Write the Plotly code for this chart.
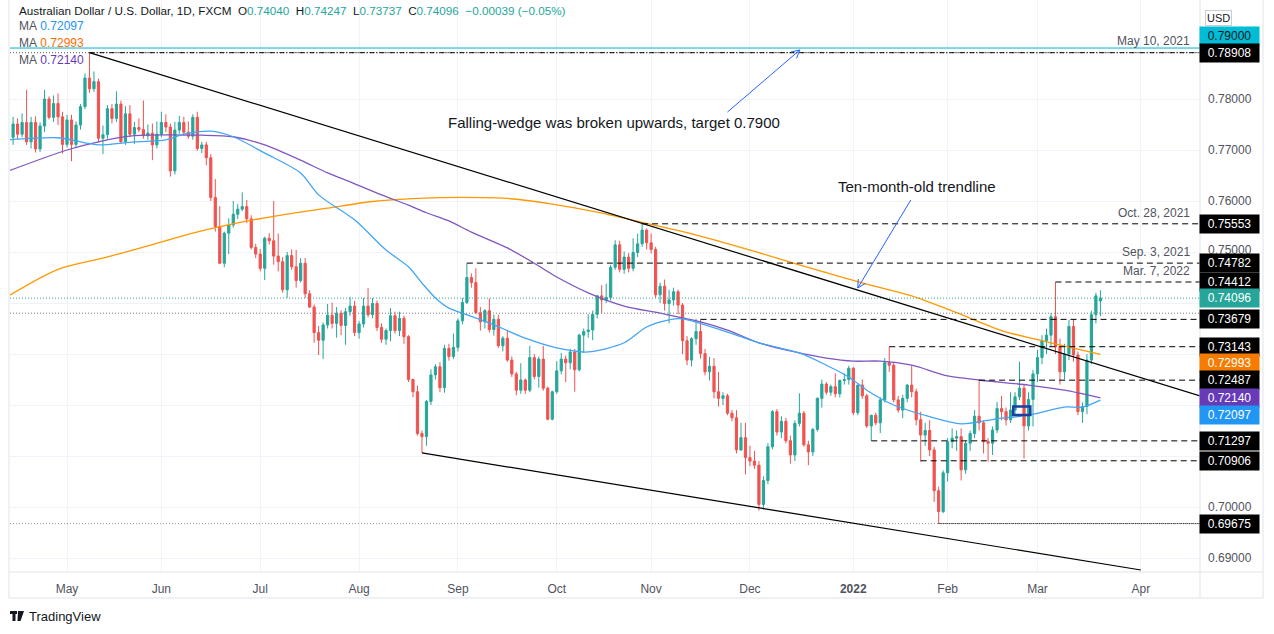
import math
import pandas as pd
import plotly.graph_objects as go

# ---------------- data ----------------
dates = pd.bdate_range("2021-04-15", "2022-03-21")

open_ = [0.7725,0.7751,0.7731,0.7754,0.7716,0.7754,0.7702,0.7747,0.7800,0.7764,
         0.7791,0.7765,0.7711,0.7759,0.7711,0.7749,0.7785,0.7841,0.7820,0.7834,
         0.7723,0.7730,0.7781,0.7762,0.7790,0.7716,0.7771,0.7731,0.7744,0.7740,
         0.7728,0.7733,0.7710,0.7731,0.7754,0.7745,0.7659,0.7739,0.7754,0.7735,
         0.7727,0.7764,0.7703,0.7710,0.7685,0.7607,0.7550,0.7478,0.7537,0.7553,
         0.7574,0.7584,0.7589,0.7565,0.7509,0.7496,0.7468,0.7527,0.7522,0.7492,
         0.7481,0.7426,0.7493,0.7471,0.7444,0.7478,0.7418,0.7392,0.7342,0.7327,
         0.7357,0.7376,0.7360,0.7380,0.7356,0.7383,0.7394,0.7342,0.7359,0.7394,
         0.7377,0.7399,0.7352,0.7329,0.7346,0.7375,0.7346,0.7370,0.7334,0.7250,
         0.7226,0.7144,0.7138,0.7207,0.7259,0.7275,0.7234,0.7311,0.7295,0.7313,
         0.7365,0.7401,0.7450,0.7440,0.7381,0.7363,0.7385,0.7348,0.7368,0.7316,
         0.7331,0.7288,0.7261,0.7229,0.7249,0.7229,0.7293,0.7256,0.7290,0.7233,
         0.7172,0.7226,0.7267,0.7290,0.7283,0.7304,0.7269,0.7337,0.7344,0.7347,
         0.7378,0.7414,0.7406,0.7411,0.7470,0.7514,0.7466,0.7490,0.7468,0.7499,
         0.7516,0.7543,0.7518,0.7505,0.7416,0.7433,0.7399,0.7406,0.7422,0.7396,
         0.7326,0.7288,0.7330,0.7344,0.7301,0.7265,0.7276,0.7226,0.7213,0.7218,
         0.7184,0.7175,0.7112,0.7136,0.7097,0.7090,0.7082,0.7005,0.7052,0.7118,
         0.7187,0.7147,0.7168,0.7130,0.7102,0.7164,0.7184,0.7122,0.7108,0.7152,
         0.7213,0.7241,0.7225,0.7236,0.7222,0.7248,0.7250,0.7272,0.7185,0.7239,
         0.7218,0.7159,0.7180,0.7165,0.7210,0.7283,0.7278,0.7210,0.7190,0.7213,
         0.7239,0.7226,0.7171,0.7141,0.7150,0.7112,0.7032,0.6991,0.7067,0.7128,
         0.7135,0.7138,0.7073,0.7125,0.7144,0.7178,0.7165,0.7128,0.7125,0.7151,
         0.7193,0.7187,0.7171,0.7190,0.7216,0.7233,0.7159,0.7211,0.7261,0.7293,
         0.7326,0.7337,0.7373,0.7314,0.7265,0.7300,0.7354,0.7298,0.7187,0.7197,
         0.7288,0.7377,0.7404]
high = [0.7765,0.7762,0.7772,0.7818,0.7765,0.7766,0.7754,0.7818,0.7805,0.7807,
        0.7811,0.7775,0.7769,0.7769,0.7756,0.7790,0.7850,0.7891,0.7854,0.7840,
        0.7748,0.7788,0.7790,0.7815,0.7797,0.7786,0.7788,0.7755,0.7762,0.7797,
        0.7750,0.7752,0.7756,0.7775,0.7770,0.7752,0.7755,0.7767,0.7765,0.7756,
        0.7770,0.7775,0.7716,0.7716,0.7692,0.7643,0.7590,0.7540,0.7566,0.7600,
        0.7594,0.7617,0.7602,0.7572,0.7516,0.7506,0.7530,0.7537,0.7600,0.7536,
        0.7490,0.7500,0.7505,0.7504,0.7488,0.7488,0.7425,0.7397,0.7355,0.7362,
        0.7398,0.7401,0.7392,0.7386,0.7390,0.7412,0.7404,0.7365,0.7410,0.7429,
        0.7410,0.7405,0.7360,0.7350,0.7390,0.7383,0.7383,0.7375,0.7337,0.7252,
        0.7238,0.7150,0.7210,0.7270,0.7280,0.7284,0.7318,0.7320,0.7340,0.7370,
        0.7410,0.7478,0.7458,0.7468,0.7392,0.7388,0.7409,0.7377,0.7377,0.7335,
        0.7347,0.7295,0.7265,0.7282,0.7252,0.7316,0.7300,0.7295,0.7316,0.7236,
        0.7228,0.7286,0.7302,0.7297,0.7310,0.7310,0.7340,0.7350,0.7378,0.7385,
        0.7416,0.7435,0.7438,0.7475,0.7523,0.7522,0.7501,0.7498,0.7527,0.7536,
        0.7556,0.7546,0.7536,0.7510,0.7440,0.7446,0.7426,0.7430,0.7426,0.7400,
        0.7335,0.7333,0.7369,0.7368,0.7310,0.7294,0.7292,0.7265,0.7225,0.7222,
        0.7190,0.7190,0.7165,0.7165,0.7120,0.7110,0.7090,0.7060,0.7125,0.7190,
        0.7192,0.7178,0.7175,0.7140,0.7170,0.7223,0.7188,0.7130,0.7155,0.7215,
        0.7250,0.7245,0.7240,0.7262,0.7250,0.7262,0.7277,0.7275,0.7240,0.7250,
        0.7222,0.7180,0.7185,0.7215,0.7292,0.7314,0.7285,0.7218,0.7220,0.7241,
        0.7278,0.7232,0.7187,0.7165,0.7170,0.7118,0.7040,0.7072,0.7135,0.7154,
        0.7150,0.7154,0.7130,0.7150,0.7190,0.7249,0.7170,0.7135,0.7158,0.7206,
        0.7218,0.7195,0.7225,0.7225,0.7285,0.7240,0.7225,0.7269,0.7308,0.7337,
        0.7350,0.7380,0.7441,0.7330,0.7320,0.7367,0.7368,0.7305,0.7205,0.7300,
        0.7385,0.7420,0.7425]
low = [0.7710,0.7722,0.7725,0.7710,0.7703,0.7695,0.7696,0.7735,0.7760,0.7755,
       0.7749,0.7693,0.7705,0.7678,0.7706,0.7740,0.7780,0.7812,0.7814,0.7715,
       0.7692,0.7722,0.7752,0.7755,0.7713,0.7710,0.7725,0.7712,0.7735,0.7722,
       0.7720,0.7680,0.7703,0.7725,0.7735,0.7648,0.7652,0.7732,0.7728,0.7722,
       0.7720,0.7698,0.7694,0.7670,0.7600,0.7540,0.7476,0.7470,0.7496,0.7548,
       0.7565,0.7580,0.7557,0.7505,0.7488,0.7462,0.7445,0.7515,0.7475,0.7462,
       0.7420,0.7410,0.7465,0.7430,0.7440,0.7410,0.7390,0.7322,0.7298,0.7290,
       0.7350,0.7350,0.7332,0.7337,0.7318,0.7375,0.7335,0.7330,0.7352,0.7372,
       0.7370,0.7345,0.7322,0.7318,0.7325,0.7340,0.7335,0.7320,0.7245,0.7215,
       0.7140,0.7106,0.7120,0.7200,0.7250,0.7225,0.7224,0.7287,0.7290,0.7305,
       0.7358,0.7398,0.7430,0.7378,0.7346,0.7350,0.7342,0.7336,0.7312,0.7305,
       0.7285,0.7255,0.7219,0.7222,0.7222,0.7225,0.7250,0.7234,0.7228,0.7170,
       0.7170,0.7222,0.7260,0.7245,0.7270,0.7226,0.7266,0.7302,0.7332,0.7327,
       0.7370,0.7380,0.7400,0.7405,0.7465,0.7460,0.7457,0.7460,0.7462,0.7490,
       0.7510,0.7505,0.7497,0.7410,0.7400,0.7385,0.7360,0.7395,0.7378,0.7300,
       0.7278,0.7276,0.7318,0.7291,0.7258,0.7248,0.7213,0.7197,0.7200,0.7180,
       0.7168,0.7105,0.7110,0.7064,0.7080,0.7075,0.6993,0.6995,0.7045,0.7113,
       0.7140,0.7135,0.7125,0.7085,0.7090,0.7158,0.7118,0.7082,0.7100,0.7148,
       0.7195,0.7220,0.7218,0.7215,0.7215,0.7240,0.7240,0.7180,0.7180,0.7212,
       0.7155,0.7130,0.7160,0.7145,0.7205,0.7265,0.7205,0.7185,0.7174,0.7205,
       0.7215,0.7160,0.7089,0.7120,0.7100,0.7010,0.6967,0.6988,0.7050,0.7115,
       0.7110,0.7052,0.7065,0.7110,0.7135,0.7150,0.7105,0.7089,0.7102,0.7145,
       0.7170,0.7160,0.7165,0.7180,0.7210,0.7095,0.7150,0.7158,0.7245,0.7280,
       0.7300,0.7315,0.7300,0.7240,0.7250,0.7288,0.7285,0.7180,0.7165,0.7182,
       0.7280,0.7360,0.7374]
close = [0.7751,0.7731,0.7754,0.7716,0.7754,0.7702,0.7747,0.7800,0.7764,0.7791,
         0.7765,0.7711,0.7759,0.7711,0.7749,0.7785,0.7841,0.7820,0.7834,0.7723,
         0.7730,0.7781,0.7762,0.7790,0.7716,0.7771,0.7731,0.7744,0.7740,0.7728,
         0.7733,0.7710,0.7731,0.7754,0.7745,0.7659,0.7739,0.7754,0.7735,0.7727,
         0.7764,0.7703,0.7710,0.7685,0.7607,0.7550,0.7478,0.7537,0.7553,0.7574,
         0.7584,0.7589,0.7565,0.7509,0.7496,0.7468,0.7527,0.7522,0.7492,0.7481,
         0.7426,0.7493,0.7471,0.7444,0.7478,0.7418,0.7392,0.7342,0.7327,0.7357,
         0.7376,0.7360,0.7380,0.7356,0.7383,0.7394,0.7342,0.7359,0.7394,0.7377,
         0.7399,0.7352,0.7329,0.7346,0.7375,0.7346,0.7370,0.7334,0.7250,0.7226,
         0.7144,0.7138,0.7207,0.7259,0.7275,0.7234,0.7311,0.7295,0.7313,0.7365,
         0.7401,0.7450,0.7440,0.7381,0.7363,0.7385,0.7348,0.7368,0.7316,0.7331,
         0.7288,0.7261,0.7229,0.7249,0.7229,0.7293,0.7256,0.7290,0.7233,0.7172,
         0.7226,0.7267,0.7290,0.7283,0.7304,0.7269,0.7337,0.7344,0.7347,0.7378,
         0.7414,0.7406,0.7411,0.7470,0.7514,0.7466,0.7490,0.7468,0.7499,0.7516,
         0.7543,0.7518,0.7505,0.7416,0.7433,0.7399,0.7406,0.7422,0.7396,0.7326,
         0.7288,0.7330,0.7344,0.7301,0.7265,0.7276,0.7226,0.7213,0.7218,0.7184,
         0.7175,0.7112,0.7136,0.7097,0.7090,0.7082,0.7005,0.7052,0.7118,0.7187,
         0.7147,0.7168,0.7130,0.7102,0.7164,0.7184,0.7122,0.7108,0.7152,0.7213,
         0.7241,0.7225,0.7236,0.7222,0.7248,0.7250,0.7272,0.7185,0.7239,0.7218,
         0.7159,0.7180,0.7165,0.7210,0.7283,0.7278,0.7210,0.7190,0.7213,0.7239,
         0.7226,0.7171,0.7141,0.7150,0.7112,0.7032,0.6991,0.7067,0.7128,0.7135,
         0.7138,0.7073,0.7125,0.7144,0.7178,0.7165,0.7128,0.7125,0.7151,0.7193,
         0.7187,0.7171,0.7190,0.7216,0.7233,0.7159,0.7211,0.7261,0.7293,0.7326,
         0.7337,0.7373,0.7314,0.7265,0.7300,0.7354,0.7298,0.7187,0.7197,0.7288,
         0.7377,0.7414,0.74096]

# moving averages (bar index, value)
ma50_idx = [-1, 10, 16, 19, 27, 34, 38, 44, 49, 56, 64, 68, 76, 83, 88, 91, 94, 97, 100,
            106, 114, 121, 128, 136, 141, 146, 149, 159, 166, 175, 181, 186, 190, 196,
            204, 211, 219, 226, 234, 238, 242]
ma50_val = [0.7720, 0.7724, 0.7714, 0.7710, 0.7716, 0.7720, 0.7731, 0.7737, 0.7726, 0.7694,
            0.7655, 0.7612, 0.7563, 0.7504, 0.7471, 0.7439, 0.7410, 0.7390, 0.7380,
            0.7361, 0.7331, 0.7312, 0.7304, 0.7322, 0.7353, 0.7367, 0.7369, 0.7343,
            0.7322, 0.7302, 0.7278, 0.7255, 0.7229, 0.7200, 0.7177, 0.7163, 0.7173,
            0.7180, 0.7196, 0.7196, 0.72097]
ma100_idx = [-1, 12, 19, 27, 42, 49, 56, 64, 70, 74, 82, 88, 92, 97, 102, 110, 116, 121,
             128, 136, 144, 153, 159, 166, 174, 181, 187, 193, 200, 208, 215, 226, 234, 242]
ma100_val = [0.7659, 0.7700, 0.7716, 0.7728, 0.7729, 0.7726, 0.7710, 0.7680, 0.7655, 0.7641,
             0.7612, 0.7592, 0.7577, 0.7561, 0.7539, 0.7508, 0.7478, 0.7451, 0.7420,
             0.7394, 0.7380, 0.7363, 0.7347, 0.7322, 0.7304, 0.7292, 0.7286, 0.7286,
             0.7278, 0.7257, 0.7249, 0.7239, 0.7229, 0.72140]
ma200_idx = [-1, 10, 20, 30, 40, 50, 60, 70, 80, 90, 100, 110, 120, 130, 140, 150, 160,
             170, 180, 190, 200, 210, 220, 230, 242]
ma200_val = [0.7414, 0.7466, 0.7488, 0.7512, 0.7537, 0.7557, 0.7573, 0.7586, 0.7599, 0.7605,
             0.7607, 0.7605, 0.7594, 0.7578, 0.7558, 0.7538, 0.7514, 0.7488, 0.7462,
             0.7437, 0.7414, 0.7381, 0.7346, 0.7324, 0.72993]

# horizontal levels: (price, start bar)
level_prices = [0.75553, 0.74782, 0.74412, 0.73679, 0.73143, 0.72487, 0.71297, 0.70906]
level_start = [140, 101, 232, 153, 195, 215, 191, 202]
level_dates = {0.75553: "Oct. 28, 2021", 0.74782: "Sep. 3, 2021", 0.74412: "Mar. 7, 2022"}
target_price = 0.79000
may_high = 0.78908
last_price = 0.74096
prev_line = 0.7380
jan_low = 0.69675
jan_low_bar = 206

# wedge anchors (bar, price)
upper_wedge = [(17, 0.7891), (140, 0.7556)]
lower_wedge = [(91, 0.7106), (251, 0.68765)]

ytick_plain = [0.78, 0.77, 0.76, 0.75, 0.70, 0.69]

# ---------------- geometry ----------------
W, H = 1274, 634
ML, MR, MT, MB = 10, 74, 0, 62
PW, PH = W - ML - MR, H - MT - MB
BAR_PX = 4.493
PX_PER_PRICE = 5100.0
X0 = -0.69
XR = [X0, X0 + PW / BAR_PX]
YR = [0.687255, 0.687255 + PH / PX_PER_PRICE]

def px2paper(px, py):
    return (px - ML) / PW, (H - MB - py) / PH

n = len(close)
x = list(range(n))

# month ticks
ext = pd.bdate_range(dates[0], "2022-04-29")
tickvals, ticktext = [], []
for i in range(1, len(ext)):
    if ext[i].month != ext[i - 1].month and i <= XR[1]:
        tickvals.append(i)
        ticktext.append("<b>2022</b>" if ext[i].month == 1 else ext[i].strftime("%b"))

fig = go.Figure()

fig.add_trace(go.Candlestick(
    x=x, open=open_, high=high, low=low, close=close,
    increasing=dict(line=dict(color="#26a69a", width=1), fillcolor="#26a69a"),
    decreasing=dict(line=dict(color="#ef5350", width=1), fillcolor="#ef5350"),
    whiskerwidth=0, hoverinfo="skip", showlegend=False))

for idx, val, col in [(ma200_idx, ma200_val, "#ff9800"),
                      (ma100_idx, ma100_val, "#7e57c2"),
                      (ma50_idx, ma50_val, "#42a5f5")]:
    fig.add_trace(go.Scatter(x=idx, y=val, mode="lines",
                             line=dict(color=col, width=1.3, shape="spline", smoothing=0.8),
                             hoverinfo="skip", showlegend=False))

shapes = []
def hline(p, x0, dash, color, width=1):
    shapes.append(dict(type="line", xref="x", yref="y", x0=x0, x1=XR[1], y0=p, y1=p,
                       line=dict(color=color, width=width, dash=dash), layer="above"))

hline(prev_line, XR[0], "1px,2px", "#787b86")
hline(jan_low, XR[0], "1px,2px", "#9598a1")
hline(jan_low, jan_low_bar, "1px,1px", "#000000")
hline(last_price, XR[0], "1px,2px", "#26a69a")
hline(target_price, XR[0], "solid", "#00bcd4")
hline(may_high, XR[0], "1px,2px", "#555555")
hline(may_high, upper_wedge[0][0], "5px,2px,1px,2px", "#000000")
for p, s in zip(level_prices, level_start):
    hline(p, s, "6px,4px", "#000000")

def extend(a, b, xend):
    (x1, y1), (x2, y2) = a, b
    k = (y2 - y1) / (x2 - x1)
    return y1 + k * (xend - x1)

shapes.append(dict(type="line", xref="x", yref="y", x0=upper_wedge[0][0], y0=upper_wedge[0][1],
                   x1=XR[1], y1=extend(upper_wedge[0], upper_wedge[1], XR[1]),
                   line=dict(color="#000000", width=1.2), layer="above"))
shapes.append(dict(type="line", xref="x", yref="y", x0=lower_wedge[0][0], y0=lower_wedge[0][1],
                   x1=lower_wedge[1][0], y1=lower_wedge[1][1],
                   line=dict(color="#000000", width=1.2), layer="above"))

# small dark-blue bracket drawing
shapes.append(dict(type="rect", xref="x", yref="y", x0=222.6, x1=226.4, y0=0.71804, y1=0.71971,
                   line=dict(color="#1a3fa3", width=2.5), layer="above"))

# arrows (open V heads)
def arrow(tail, head, color="#2962ff"):
    tx, ty = tail; hx, hy = head
    dxp = (hx - tx) * BAR_PX; dyp = (hy - ty) * PX_PER_PRICE
    L = math.hypot(dxp, dyp); ux, uy = dxp / L, dyp / L
    shapes.append(dict(type="line", xref="x", yref="y", x0=tx, y0=ty, x1=hx, y1=hy,
                       line=dict(color=color, width=1), layer="above"))
    for ang in (math.radians(28), -math.radians(28)):
        wx = ux * math.cos(ang) - uy * math.sin(ang)
        wy = ux * math.sin(ang) + uy * math.cos(ang)
        shapes.append(dict(type="line", xref="x", yref="y", x0=hx, y0=hy,
                           x1=hx - 9 * wx / BAR_PX, y1=hy - 9 * wy / PX_PER_PRICE,
                           line=dict(color=color, width=1), layer="above"))

arrow((159.0, 0.77745), (175.1, 0.78961))
arrow((199.8, 0.76020), (188.0, 0.74294))

# widget borders
def pline(x0, y0, x1, y1, color="#e0e3eb"):
    a, b = px2paper(x0, y0); c, d = px2paper(x1, y1)
    shapes.append(dict(type="line", xref="paper", yref="paper", x0=a, y0=b, x1=c, y1=d,
                       line=dict(color=color, width=1), layer="above"))
pline(9, 0, 9, 598)
pline(9, 598, 1263, 598)
pline(1263, 0, 1263, 598)
pline(1200, 0, 1200, 598)
pline(9, 572, 1263, 572)

# logo
lx, ly = px2paper(10, 611)
lx2, ly2 = px2paper(17, 621)
shapes.append(dict(type="rect", xref="paper", yref="paper", x0=lx, x1=px2paper(17, 0)[0],
                   y0=px2paper(0, 614)[1], y1=ly, fillcolor="#131722", line=dict(width=0)))
shapes.append(dict(type="rect", xref="paper", yref="paper", x0=px2paper(12.5, 0)[0],
                   x1=px2paper(15.5, 0)[0], y0=ly2, y1=ly, fillcolor="#131722", line=dict(width=0)))
shapes.append(dict(type="path", xref="paper", yref="paper",
                   path="M {} {} L {} {} L {} {} L {} {} Z".format(
                       *px2paper(18, 611), *px2paper(24, 611), *px2paper(20.5, 621), *px2paper(17.5, 621)),
                   fillcolor="#131722", line=dict(width=0)))

ann = []
FONT = "Liberation Sans, Arial, sans-serif"
def ptext(px, py, text, size=13, color="#131722", anchor="left"):
    a, b = px2paper(px, py)
    ann.append(dict(xref="paper", yref="paper", x=a, y=b, text=text, showarrow=False,
                    xanchor=anchor, yanchor="middle", font=dict(family=FONT, size=size, color=color)))

T = "#26a69a"
sp = "\u00a0\u00a0"
hdr = ("Australian Dollar / U.S. Dollar, 1D, FXCM" + sp +
       "O<span style='color:%s'>0.74040</span>" % T + sp +
       "H<span style='color:%s'>0.74247</span>" % T + sp +
       "L<span style='color:%s'>0.73737</span>" % T + sp +
       "C<span style='color:%s'>0.74096</span>" % T + sp +
       "<span style='color:%s'>\u22120.00039 (\u22120.05%%)</span>" % T)
ptext(17, 10, hdr, size=11.7)
ptext(17, 26, "MA\u00a0<span style='color:#2196f3'>0.72097</span>", size=12, color="#50535e")
ptext(17, 43, "MA\u00a0<span style='color:#ff6d00'>0.72993</span>", size=12, color="#50535e")
ptext(17, 60, "MA\u00a0<span style='color:#673ab7'>0.72140</span>", size=12, color="#50535e")

ptext(1192, 41, "May 10, 2021", size=12, color="#50535e", anchor="right")
for p, lab in level_dates.items():
    yy = 507 - (p - 0.70) * PX_PER_PRICE
    ptext(1192, yy - 11, lab, size=12, color="#50535e", anchor="right")

ptext(446, 123, "Falling-wedge was broken upwards, target 0.7900", size=15)
ptext(836, 186, "Ten-month-old trendline", size=15)
ptext(27, 616, "TradingView", size=13)

# USD box
ua, ub = px2paper(1232, 10)
ann.append(dict(xref="paper", yref="paper", x=ua, y=ub, text="USD", showarrow=False,
                font=dict(family=FONT, size=11, color="#131722"), bordercolor="#c9ccd4",
                borderwidth=1, borderpad=1, bgcolor="#ffffff"))

# price-axis labels
AX = (1229.5 - ML) / PW
for p in ytick_plain:
    ann.append(dict(xref="paper", yref="y", x=AX, y=p, text="%.5f" % p, showarrow=False,
                    xanchor="center", yanchor="middle", yshift=2 if p == 0.75 else 0,
                    font=dict(family=FONT, size=12, color="#50535e")))

boxes = [(target_price, "#00bcd4", "#131722", 12), (may_high, "#000000", "#ffffff", 0),
         (0.75553, "#000000", "#ffffff", 0), (0.74782, "#000000", "#ffffff", 0),
         (0.74412, "#000000", "#ffffff", 0), (last_price, "#26a69a", "#ffffff", 0),
         (0.73679, "#000000", "#ffffff", 0), (0.73143, "#000000", "#ffffff", 0),
         (0.72993, "#f57c00", "#ffffff", -9), (0.72487, "#000000", "#ffffff", 0),
         (0.72140, "#673ab7", "#ffffff", 0), (0.72097, "#2196f3", "#ffffff", -15),
         (0.71297, "#000000", "#ffffff", 0), (0.70906, "#000000", "#ffffff", 0),
         (jan_low, "#000000", "#ffffff", 0)]
for p, bg, fg, ys in boxes:
    ann.append(dict(xref="paper", yref="y", x=AX, y=p, yshift=ys, text="%.5f" % p,
                    showarrow=False, xanchor="center", yanchor="middle", width=57, height=16,
                    bgcolor=bg, font=dict(family=FONT, size=12, color=fg)))

fig.update_layout(
    width=W, height=H, margin=dict(l=ML, r=MR, t=MT, b=MB, autoexpand=False),
    paper_bgcolor="#ffffff", plot_bgcolor="#ffffff",
    shapes=shapes, annotations=ann, showlegend=False,
    xaxis=dict(range=XR, tickvals=tickvals, ticktext=ticktext, showgrid=True,
               gridcolor="#f0f3fa", zeroline=False, showline=False,
               ticks="outside", ticklen=6, tickcolor="rgba(0,0,0,0)",
               tickfont=dict(family=FONT, size=12, color="#50535e"),
               rangeslider=dict(visible=False), fixedrange=True, automargin=False),
    yaxis=dict(range=YR, tick0=0.69, dtick=0.01, showgrid=True, gridcolor="#f0f3fa",
               showticklabels=False, zeroline=False, side="right", fixedrange=True,
               automargin=False),
)

# remove the page's default 8px body margin so the figure sits at the window origin
fig.write_html("out.html",
               config={"displayModeBar": False, "staticPlot": True},
               post_script="document.body.style.margin='0';document.body.style.overflow='hidden';")
